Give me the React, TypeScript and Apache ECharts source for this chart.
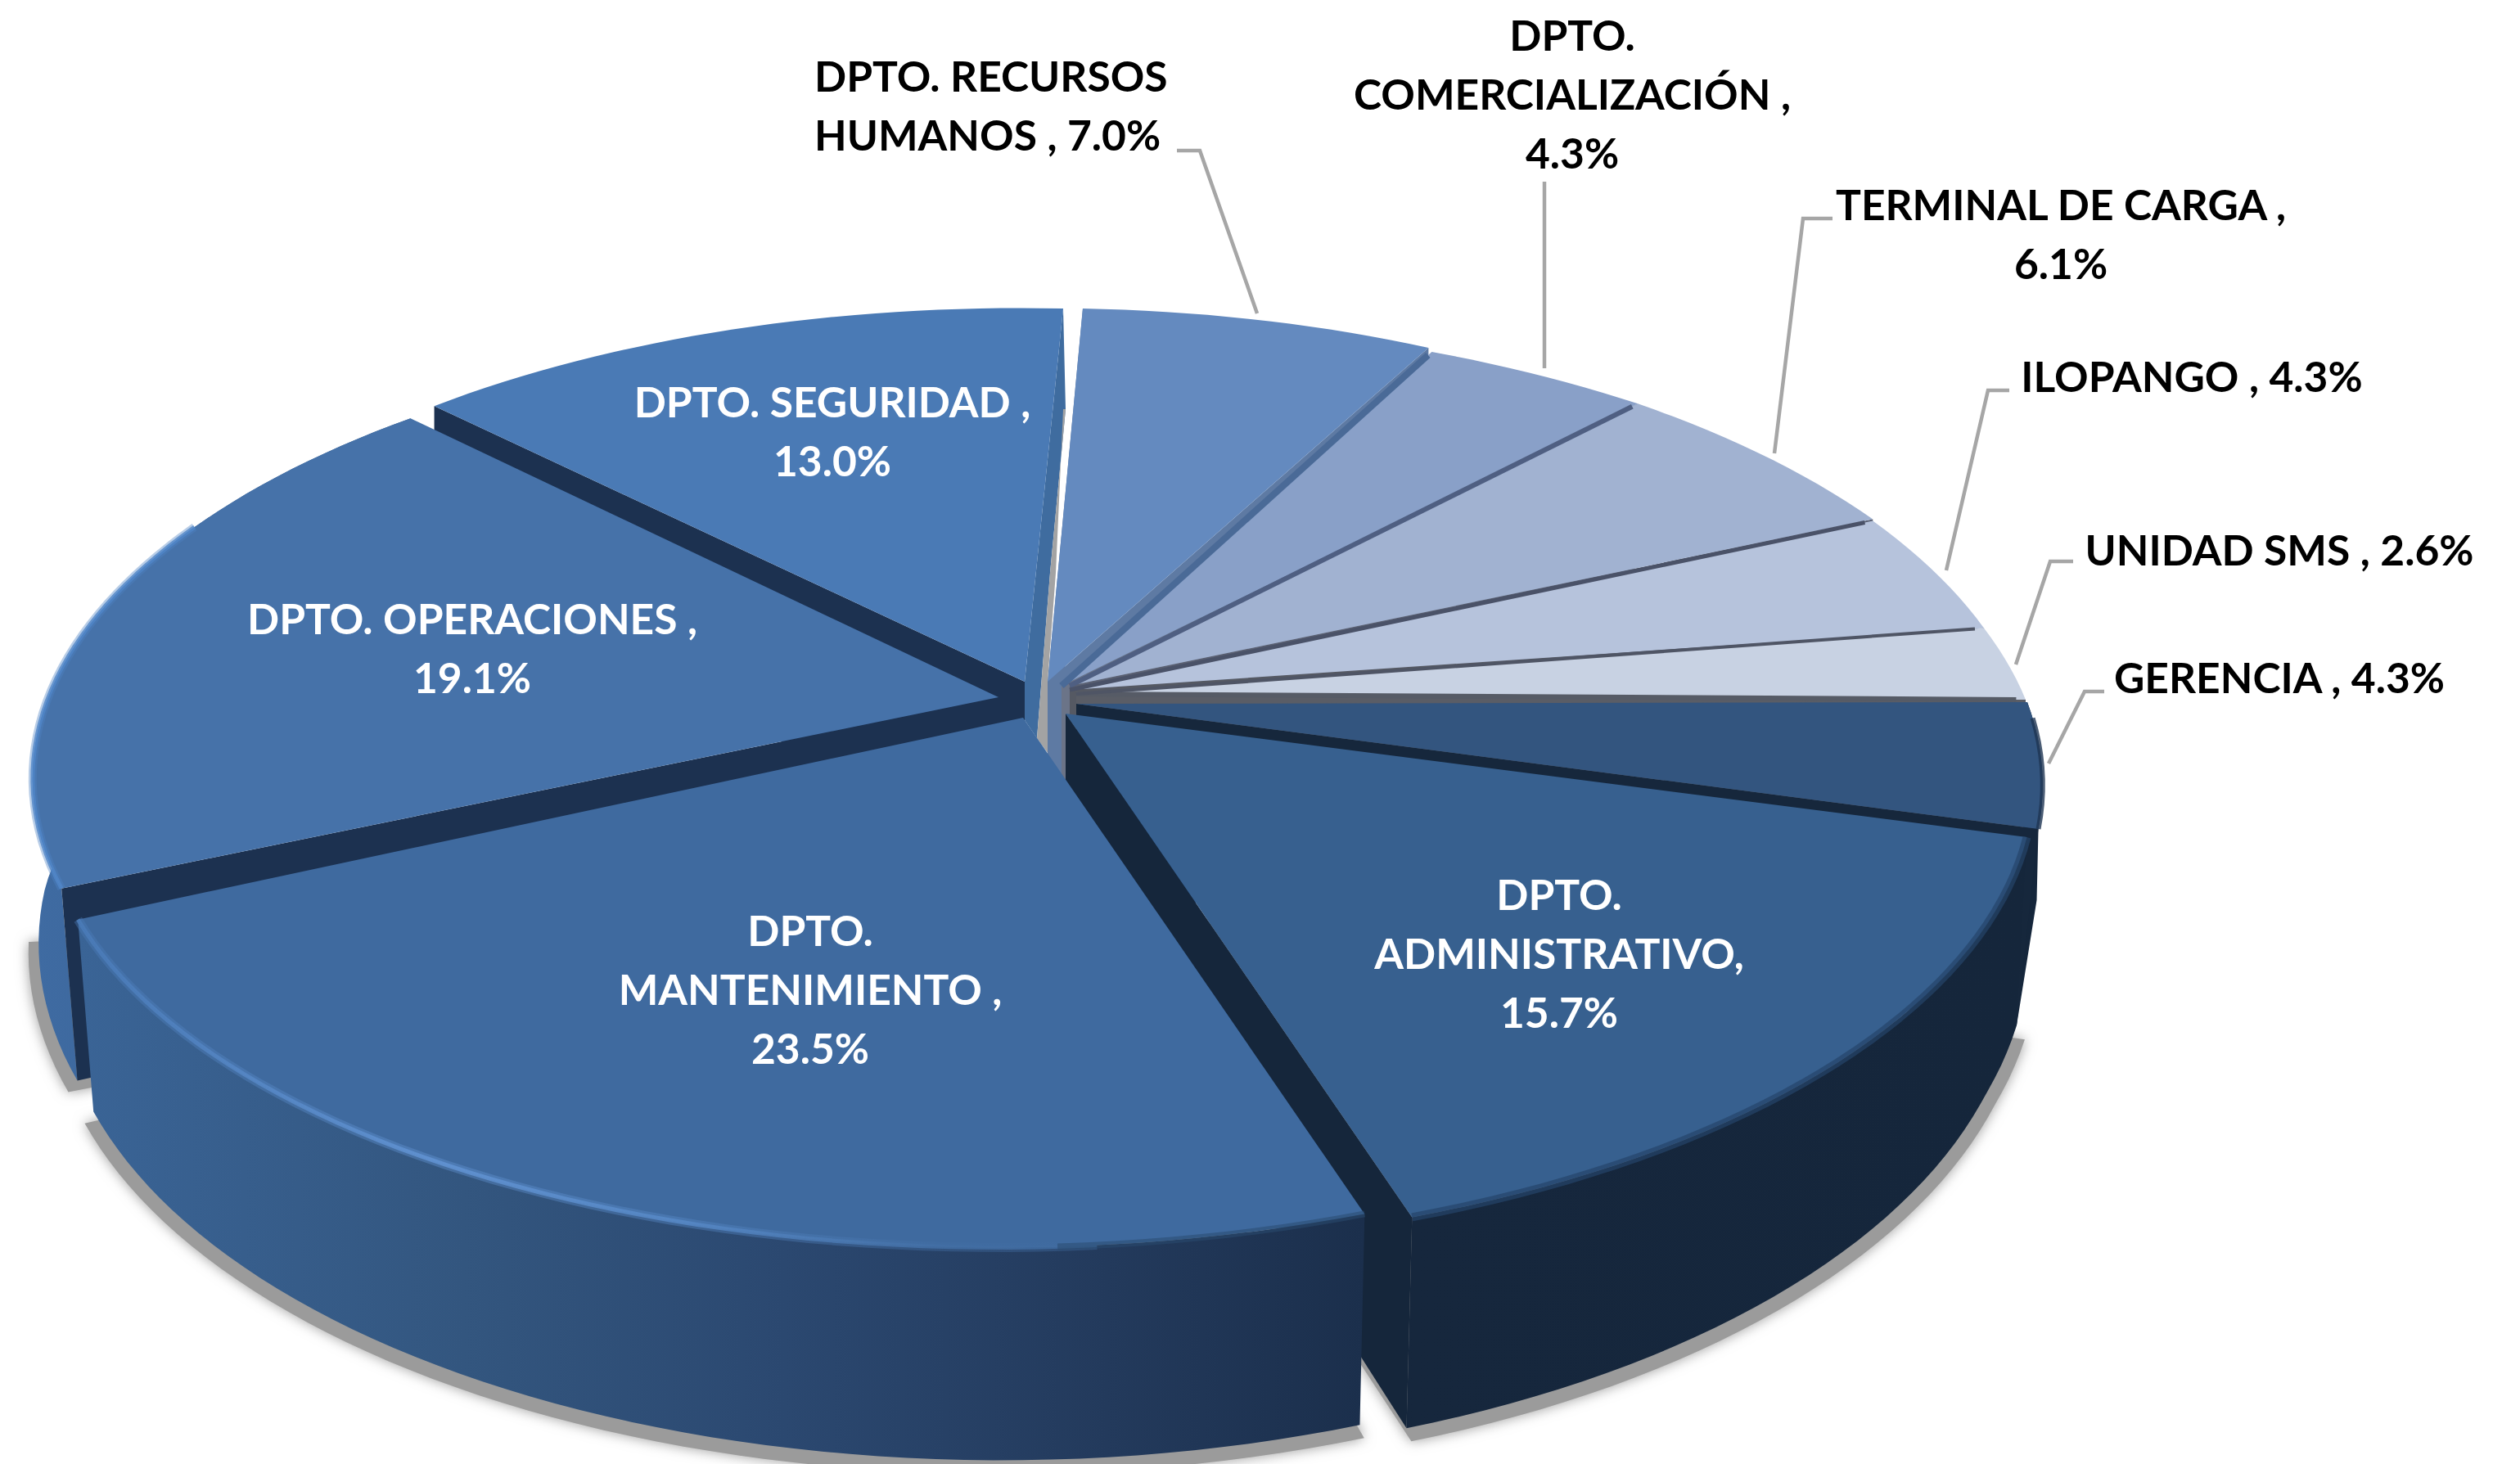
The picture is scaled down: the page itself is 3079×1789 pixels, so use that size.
import React, { useEffect, useRef } from "react";
import * as echarts from "echarts";

const categories = ["GERENCIA", "DPTO. ADMINISTRATIVO", "DPTO. MANTENIMIENTO", "DPTO. OPERACIONES", "DPTO. SEGURIDAD", "DPTO. RECURSOS HUMANOS", "DPTO. COMERCIALIZACIÓN", "TERMINAL DE CARGA", "ILOPANGO", "UNIDAD SMS"];
const values = [4.3, 15.7, 23.5, 19.1, 13.0, 7.0, 4.3, 6.1, 4.3, 2.6];
const labels = [
  "GERENCIA , 4.3%",
  "DPTO.\nADMINISTRATIVO,\n15.7%",
  "DPTO.\nMANTENIMIENTO ,\n23.5%",
  "DPTO. OPERACIONES ,\n19.1%",
  "DPTO. SEGURIDAD ,\n13.0%",
  "DPTO. RECURSOS\nHUMANOS , 7.0%",
  "DPTO.\nCOMERCIALIZACIÓN ,\n4.3%",
  "TERMINAL DE CARGA ,\n6.1%",
  "ILOPANGO , 4.3%",
  "UNIDAD SMS , 2.6%",
];
const topColors = ["#33557F", "#37608F", "#3F6A9F", "#4672A9", "#4A7AB5", "#648ABF", "#89A0C8", "#A1B2D1", "#B6C3DC", "#C8D2E3"];

// projection + layout (pixels)
const CX = 1310, CY = 855, RX = 1165, RY = 550, K = 0.15, DEPTH = 221;
// explode offset of each slice at its start and end angle: dx0, dy0, dx1, dy1
const offsets = [
  [2, 3, 11, 5],
  [-3, 15, -3, 22],
  [-61, 18, -77, 38],
  [-97, 0, -72, 11],
  [-43, -4, -54, 0],
  [-30, 0, -42, 0],
  [-38, 5, -27, 0],
  [-27, 0, -16, -3],
  [-16, -1, -8, 0],
  [-8, 0, 0, 0],
];
const tips = [[1315, 860], [1302, 872], [1250, 877], [1220, 852], [1252, 833], [1280, 833], [1297, 838], [1307, 838], [1307, 843], [1315, 848]];
const paintOrder = [5, 6, 7, 8, 9, 0, 1, 4, 3, 2];
const shadowSpans: [number, number, number][] = [[3, 156.6, 174], [1, 16, 72], [2, 72, 156.6]];
const cutStart: Record<number, string> = { 3: "#1C3150", 4: "#1C3150", 5: "#5E7AA3" };
const cutEnd: Record<number, string> = { 0: "#16273C", 1: "#15263B", 5: "#5E7AA3", 6: "#6B7488", 7: "#5A6072", 8: "#555963", 9: "#5A5D66" };
const separators: Record<number, [string, number]> = { 6: ["#4A6A97", 8], 7: ["#4F5F82", 6], 8: ["#4A5268", 5], 9: ["#4F5565", 4], 0: ["#565B66", 6] };
const wallStops: Record<number, [number, string][]> = {
  0: [[0, "#15263B"], [1, "#15263B"]],
  1: [[0, "#16273D"], [1, "#15263B"]],
  2: [[0, "#3A6496"], [0.3, "#33567F"], [0.55, "#2B4870"], [0.8, "#233A5C"], [1, "#1B2F4C"]],
  3: [[0, "#3F6BA2"], [1, "#375E8E"]],
};
const labelPos = [[2785, 827], [1905, 1164], [990, 1208], [577, 791], [1017, 526], [995, 128], [1921, 114], [2518, 285], [2678, 459], [2785, 671]];
const leaders = [
  [[2571, 845], [2547, 845], [2503, 933]],
  null, null, null, null,
  [[1438, 184], [1466, 184], [1536, 383]],
  [[1887, 222], [1887, 450]],
  [[2239, 267], [2203, 267], [2168, 554]],
  [[2455, 477], [2429, 477], [2378, 697]],
  [[2533, 686], [2505, 686], [2463, 812]],
];
const insideLabels = [1, 2, 3, 4];

const total = values.reduce((a, b) => a + b, 0);
const startAngles = values.map((_, i) => (values.slice(0, i).reduce((a, b) => a + b, 0) / total) * 360);
const endAngles = values.map((v, i) => startAngles[i] + (v / total) * 360);

type P = [number, number];
const rim = (deg: number, i: number): P => {
  const t = (deg * Math.PI) / 180;
  const d = 1 - K * Math.sin(t);
  const f = (deg - startAngles[i]) / (endAngles[i] - startAngles[i]);
  const [a, b, c, e] = offsets[i];
  return [CX + a + (c - a) * f + (RX * Math.cos(t)) / d, CY + b + (e - b) * f + (RY * Math.sin(t)) / d];
};
const under = (deg: number, p: P): P => {
  const s = Math.sin((deg * Math.PI) / 180);
  const d = 1 - K * s;
  const lean = Math.min(1, Math.max(0, s) / 0.4);
  return [p[0] + 0.016 * lean * (1300 - p[0]), p[1] + DEPTH / d];
};
const arcAngles = (a: number, b: number) => {
  const n = Math.max(4, Math.ceil((b - a) / 1.5));
  const out: number[] = [];
  for (let k = 0; k <= n; k++) out.push(a + ((b - a) * k) / n);
  return out;
};
const nextWallCorner = (): P => under(startAngles[1], rim(startAngles[1], 1));
const wallPoints = (i: number): P[] => {
  if (i === 0) {
    // narrow wall of the first slice tapers into the next slice's wall
    const ang = arcAngles(startAngles[0], endAngles[0]);
    const e = rim(endAngles[0], 0);
    return [...ang.map((d) => rim(d, 0)), [e[0] - 2, e[1] + 87], nextWallCorner()];
  }
  const ang = arcAngles(startAngles[i], endAngles[i]);
  return [...ang.map((d) => rim(d, i)), ...ang.slice().reverse().map((d) => under(d, rim(d, i)))];
};
const cutPoints = (i: number, deg: number): P[] => {
  const r = rim(deg, i);
  const t = tips[i] as P;
  return [r, t, [t[0], t[1] + DEPTH], i === 0 ? nextWallCorner() : under(deg, r)];
};
const grad = (stops: [number, string][]) =>
  new echarts.graphic.LinearGradient(0, 0, 1, 0, stops.map(([offset, color]) => ({ offset, color })));
const poly = (points: P[], fill: any) => ({ type: "polygon", shape: { points }, style: { fill }, silent: true });
const stroke = (points: P[], color: any, width: number, opacity = 1) => ({
  type: "polyline",
  shape: { points },
  style: { fill: "none", stroke: color, lineWidth: width, opacity, lineJoin: "round" },
  silent: true,
});

const bodyItem = (_: any, api: any) => {
  const i = api.value(1) as number;
  const a = startAngles[i], b = endAngles[i];
  const children: any[] = [];
  if (wallStops[i]) children.push(poly(wallPoints(i), grad(wallStops[i])));
  if (cutStart[i]) children.push(poly(cutPoints(i, a), cutStart[i]));
  if (cutEnd[i]) children.push(poly(cutPoints(i, b), cutEnd[i]));
  if (i === 4) {
    const [ex, ey] = rim(b, i);
    children.push(poly([[ex, ey], [ex + 3, 500], [1283, 700], [1267, 902], [1252, 880], [1252, 833]], "#3F6C9F"));
    children.push(poly([[ex + 3, 500], [1283, 700], [1267, 902], [1280, 920], [1280, 833], [1290, 700], [1299, 500]], "#A3A3A3"));
  }
  const arcPts = arcAngles(a, b).map((d) => rim(d, i));
  children.push(poly([tips[i] as P, ...arcPts], topColors[i]));
  if (i === 2) {
    const h = grad([[0, "#4A7BB8"], [0.35, "#6294D4"], [0.6, "#5688C6"], [0.85, "#426EA4"], [1, "#3F6A9F"]]);
    const hl = arcAngles(a + 14, b).map((d) => rim(d, i));
    children.push(stroke(hl, h, 11, 0.4));
    children.push(stroke(hl, h, 5, 0.85));
    const fade = arcAngles(a, a + 16).map((d) => rim(d, i));
    children.push(stroke(fade, "#2A4A70", 8, 0.55));
  }
  if (i === 3) {
    const hl = arcAngles(a, 205).map((d) => rim(d, i));
    children.push(stroke(hl, "#4D82C2", 10, 0.4));
    children.push(stroke(hl, "#5086C8", 5, 0.8));
  }
  if (i === 1) {
    children.push(stroke(arcAngles(a, b).map((d) => rim(d, i)), "#254469", 10, 0.7));
  }
  if (i === 0) {
    children.push(stroke(arcAngles(a + 2, b).map((d) => rim(d, i)), "#1E3553", 6, 0.8));
  }
  return { type: "group", children };
};

const shadowItem = (_: any, api: any) => {
  const [i, a, b] = shadowSpans[api.value(1) as number];
  const bottom = arcAngles(a, b).map((d) => under(d, rim(d, i)));
  const grown = bottom.map(([x, y]) => [1290 + (x - 1290) * 1.01, 1100 + (y - 1100) * 1.01 + 10]);
  return {
    type: "polygon",
    shape: { points: [[1290, 1100], ...grown] },
    silent: true,
    style: { fill: "#9B9B9B", shadowBlur: 16, shadowColor: "#9B9B9B" },
  };
};

const overlayItem = (_: any, api: any) => {
  const i = api.value(1) as number;
  const children: any[] = [];
  if (separators[i]) {
    const [color, w] = separators[i];
    const deg = i === 0 ? 360 : startAngles[i];
    const owner = i === 0 ? 9 : i;
    const t = tips[owner] as P;
    const r = rim(deg, owner);
    children.push(stroke([t, [t[0] + (r[0] - t[0]) * 0.99, t[1] + (r[1] - t[1]) * 0.99]], color, w));
  }
  const lead = leaders[i];
  if (lead) children.push({ type: "polyline", shape: { points: lead }, silent: true, style: { fill: "none", stroke: "#A6A6A6", lineWidth: 4.5 } });
  const inside = insideLabels.includes(i);
  const [lx, ly] = labelPos[i];
  children.push({
    type: "text",
    silent: true,
    style: {
      text: labels[i],
      x: lx,
      y: ly,
      align: i === 5 ? "left" : "center",
      verticalAlign: "middle",
      fill: inside ? "#FFFFFF" : "#000000",
      fontFamily: "Lato",
      fontWeight: "bold",
      fontSize: 51.5,
      lineHeight: 72,
    },
  });
  return { type: "group", children };
};

export default function App() {
  const ref = useRef<HTMLDivElement>(null);
  useEffect(() => {
    document.body.style.margin = "0";
    const chart = echarts.init(ref.current!, undefined, { renderer: "svg" });
    const rows = (order: number[]) => order.map((i) => ({ name: categories[i], value: [values[i], i] }));
    chart.setOption({
      animation: false,
      backgroundColor: "#FFFFFF",
      series: [
        { type: "custom", coordinateSystem: "none", z: 1, silent: true, renderItem: shadowItem, data: shadowSpans.map((s, k) => ({ name: categories[s[0]], value: [values[s[0]], k] })) },
        { type: "custom", coordinateSystem: "none", z: 2, silent: true, renderItem: bodyItem, data: rows(paintOrder) },
        { type: "custom", coordinateSystem: "none", z: 3, silent: true, renderItem: overlayItem, data: rows(values.map((_, i) => i)) },
      ],
    });
    return () => chart.dispose();
  }, []);
  return <div ref={ref} style={{ position: "absolute", left: 0, top: 0, width: 3079, height: 1789 }} />;
}
